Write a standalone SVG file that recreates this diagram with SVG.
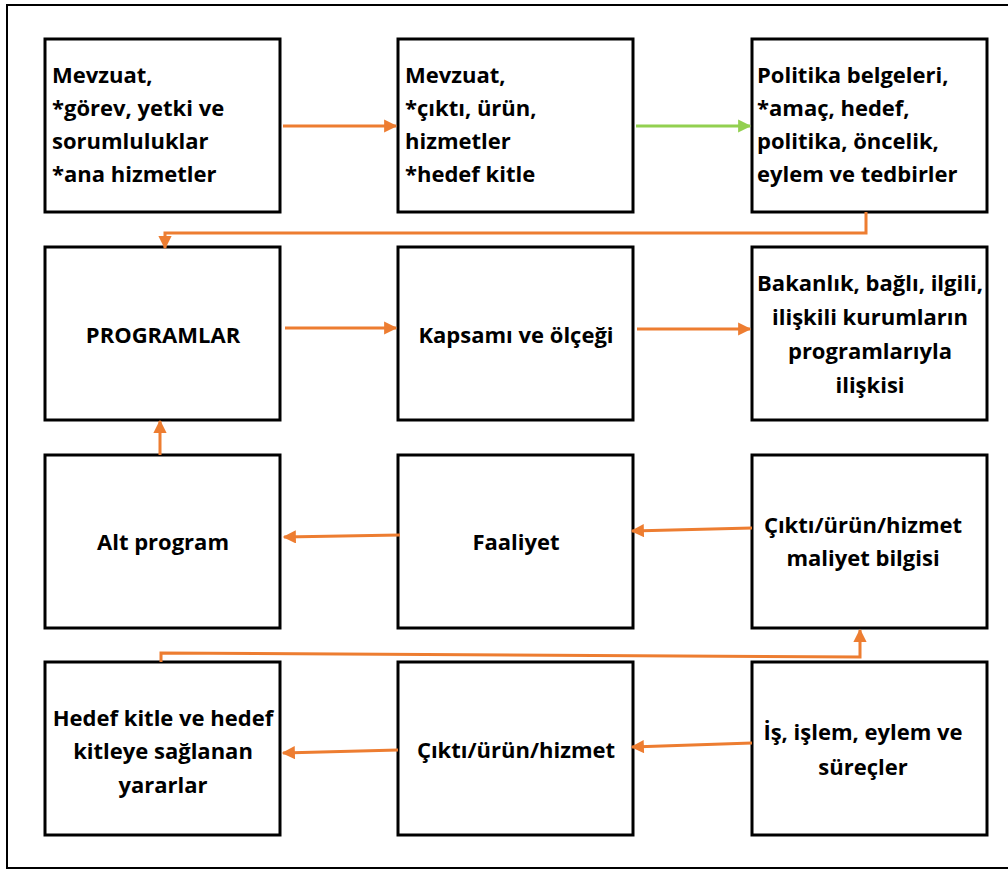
<svg xmlns="http://www.w3.org/2000/svg" width="1008" height="871" viewBox="0 0 1008 871">
<defs>
<style>
.box{fill:#fff;stroke:#000;stroke-width:3}
.t{font-family:"Open Sans","Noto Sans","Liberation Sans",sans-serif;font-weight:bold;font-size:22px;fill:#000}
.c{text-anchor:middle}
.o{fill:none;stroke:#ED7D31;stroke-width:3}
.g{fill:none;stroke:#92D050;stroke-width:3}
</style>
<marker id="ao" viewBox="0 0 10 10" refX="9" refY="5" markerWidth="5" markerHeight="4.4" orient="auto" markerUnits="strokeWidth"><path d="M0,0 L10,5 L0,10 z" fill="#ED7D31"/></marker>
<marker id="ag" viewBox="0 0 10 10" refX="9" refY="5" markerWidth="5" markerHeight="4.4" orient="auto" markerUnits="strokeWidth"><path d="M0,0 L10,5 L0,10 z" fill="#92D050"/></marker>
</defs>
<rect x="0" y="0" width="1008" height="871" fill="#fff"/>
<rect x="7" y="5" width="1012" height="863" fill="none" stroke="#000" stroke-width="2"/>

<g id="n1"><rect class="box" x="45" y="39" width="235" height="173"/>
<text class="t" x="52" y="83">Mevzuat,</text><text class="t" x="52" y="116">*görev, yetki ve</text><text class="t" x="52" y="149">sorumluluklar</text><text class="t" x="52" y="182">*ana hizmetler</text></g>
<g id="n2"><rect class="box" x="398" y="39" width="235" height="173"/>
<text class="t" x="405" y="83">Mevzuat,</text><text class="t" x="405" y="116">*çıktı, ürün,</text><text class="t" x="405" y="149">hizmetler</text><text class="t" x="405" y="182">*hedef kitle</text></g>
<g id="n3"><rect class="box" x="752" y="39" width="235" height="173"/>
<text class="t" x="757" y="83">Politika belgeleri,</text><text class="t" x="757" y="116">*amaç, hedef,</text><text class="t" x="757" y="149">politika, öncelik,</text><text class="t" x="757" y="182">eylem ve tedbirler</text></g>

<g id="n4"><rect class="box" x="45" y="247" width="235" height="173"/>
<text class="t c" x="163" y="343">PROGRAMLAR</text></g>
<g id="n5"><rect class="box" x="398" y="247" width="235" height="173"/>
<text class="t c" x="516" y="343">Kapsamı ve ölçeği</text></g>
<g id="n6"><rect class="box" x="752" y="247" width="235" height="173"/>
<text class="t c" x="870" y="291">Bakanlık, bağlı, ilgili,</text><text class="t c" x="870" y="325">ilişkili kurumların</text><text class="t c" x="870" y="359">programlarıyla</text><text class="t c" x="870" y="393">ilişkisi</text></g>

<g id="n7"><rect class="box" x="45" y="455" width="235" height="173"/>
<text class="t c" x="163" y="550">Alt program</text></g>
<g id="n8"><rect class="box" x="398" y="455" width="235" height="173"/>
<text class="t c" x="516" y="550">Faaliyet</text></g>
<g id="n9"><rect class="box" x="752" y="455" width="235" height="173"/>
<text class="t c" x="863" y="533">Çıktı/ürün/hizmet</text><text class="t c" x="863" y="566">maliyet bilgisi</text></g>

<g id="n10"><rect class="box" x="45" y="662" width="235" height="173"/>
<text class="t c" x="163" y="726">Hedef kitle ve hedef</text><text class="t c" x="163" y="759">kitleye sağlanan</text><text class="t c" x="163" y="793">yararlar</text></g>
<g id="n11"><rect class="box" x="398" y="662" width="235" height="173"/>
<text class="t c" x="516" y="758">Çıktı/ürün/hizmet</text></g>
<g id="n12"><rect class="box" x="752" y="662" width="235" height="173"/>
<text class="t c" x="863" y="740">İş, işlem, eylem ve</text><text class="t c" x="863" y="775">süreçler</text></g>

<g id="connectors">
<line class="o" x1="283" y1="126" x2="396" y2="126" marker-end="url(#ao)"/>
<line class="g" x1="636" y1="126" x2="750" y2="126" marker-end="url(#ag)"/>
<polyline class="o" points="866,212 866,233 165,233 165,248" marker-end="url(#ao)"/>
<line class="o" x1="285" y1="328" x2="396" y2="328" marker-end="url(#ao)"/>
<line class="o" x1="637" y1="329" x2="750" y2="329" marker-end="url(#ao)"/>
<line class="o" x1="752" y1="528" x2="632" y2="531" marker-end="url(#ao)"/>
<line class="o" x1="400" y1="535" x2="284" y2="537" marker-end="url(#ao)"/>
<line class="o" x1="160" y1="455" x2="160" y2="421" marker-end="url(#ao)"/>
<polyline class="o" points="161,662 161,653 860,657 860,630" marker-end="url(#ao)"/>
<line class="o" x1="752" y1="743" x2="632" y2="747" marker-end="url(#ao)"/>
<line class="o" x1="398" y1="750" x2="283" y2="753" marker-end="url(#ao)"/>
</g>
</svg>
